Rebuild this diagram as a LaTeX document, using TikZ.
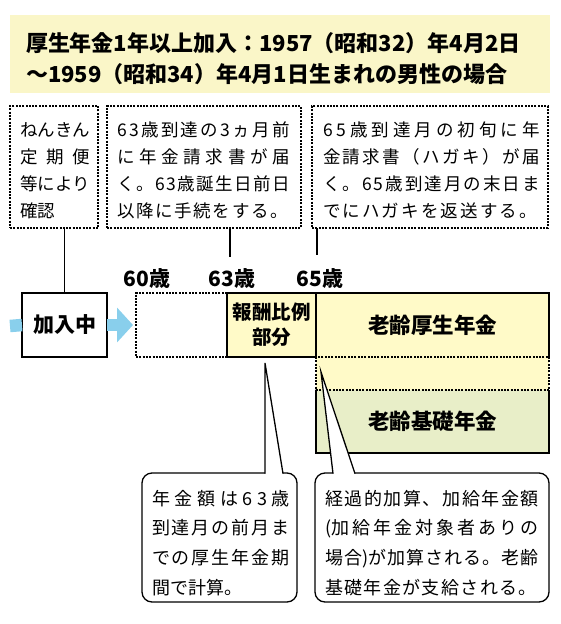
\documentclass[tikz,border=0pt]{standalone}
\usepackage{fontspec}
\setmainfont{Noto Sans CJK JP}
\usetikzlibrary{arrows.meta}
\definecolor{titleyellow}{RGB}{250,246,200}
\definecolor{boxyellow}{RGB}{255,250,200}
\definecolor{kisogreen}{RGB}{232,238,200}
\definecolor{arrowblue}{RGB}{137,207,236}
\newcount\jpc
\newcommand\jpsetclass[2]{\jpc=#1 \loop\XeTeXcharclass\jpc=200 \advance\jpc by 1 \ifnum\jpc<#2 \repeat}
\jpsetclass{"3000}{"3100}
\jpsetclass{"4E00}{"A000}
\jpsetclass{"FF00}{"FFF0}
\jpsetclass{"30}{"3A}
\XeTeXinterchartoks 200 200 = {\hskip 0pt plus 1fil\relax}
\newcommand\JL[2]{\hbox to #1{\XeTeXinterchartokenstate=1 #2}}
\newcommand\NL[1]{\hbox{#1}}
\tikzset{
  dbox/.style={draw, line width=1.2pt, dash pattern=on 2pt off 1.3pt},
  sbox/.style={draw, line width=1.3pt},
  sline/.style={line width=1.3pt},
  dline/.style={line width=1.2pt, dash pattern=on 2pt off 1.3pt},
  conn/.style={line width=1.3pt},
  boxtext/.style={anchor=base west, font=\fontsize{17.5}{27}\selectfont},
  calltext/.style={anchor=base west, font=\fontsize{18}{29.7}\selectfont},
  age/.style={anchor=base, font=\bfseries\fontsize{21}{25}\selectfont},
  biglabel/.style={font=\bfseries\fontsize{21.5}{26}\selectfont},
}
\begin{document}
\begin{tikzpicture}[x=1pt,y=-1pt, every node/.style={inner sep=0pt, outer sep=0pt}]
\useasboundingbox (0,0) rectangle (560,624);
% title
\node[fill=titleyellow, minimum width=540pt, minimum height=78pt, anchor=north west] (title) at (10,15) {};
\node[anchor=base west, font=\bfseries\fontsize{22}{31}\selectfont] (titletext) at (26,51)
  {\vtop{\baselineskip=31pt \hbox{厚生年金1年以上加入：1957（昭和32）年4月2日}\hbox{～1959（昭和34）年4月1日生まれの男性の場合}}};
% dashed info boxes
\node[dbox, minimum width=88pt, minimum height=122pt, anchor=north west] (b1) at (10,106) {};
\node[dbox, minimum width=194pt, minimum height=122pt, anchor=north west] (b2) at (107,106) {};
\node[dbox, minimum width=236pt, minimum height=122pt, anchor=north west] (b3) at (312,106) {};
\node[boxtext] (b1t) at (20,136) {\vtop{\baselineskip=27pt \JL{70pt}{ねんきん}\JL{70pt}{定期便}\JL{70pt}{等により}\NL{確認}}};
\node[boxtext] (b2t) at (117,136) {\vtop{\baselineskip=27pt \JL{173pt}{63歳到達の3ヵ月前}\JL{173pt}{に年金請求書が届}\JL{173pt}{く。63歳誕生日前日}\JL{171pt}{以降に手続をする。}}};
\node[boxtext] (b3t) at (323,136) {\vtop{\baselineskip=27pt \JL{217pt}{65歳到達月の初旬に年}\JL{217pt}{金請求書（ハガキ）が届}\JL{217pt}{く。65歳到達月の末日ま}\JL{214pt}{でにハガキを返送する。}}};
% ages
\node[age] (a60) at (147,286) {60歳};
\node[age] (a63) at (232,286) {63歳};
\node[age] (a65) at (320,286) {65歳};
% timeline boxes
\node[sbox, fill=white, minimum width=85pt, minimum height=64pt, font=\bfseries\fontsize{21}{25}\selectfont] (kanyu) at (64.5,325) {加入中};
\node[dbox, minimum width=91pt, minimum height=64pt, anchor=north west] (d6063) at (136,293) {};
\fill[boxyellow] (316,293) rectangle (549,390);
\fill[kisogreen] (316,390) rectangle (549,453);
\node[sbox, fill=boxyellow, minimum width=89pt, minimum height=64pt, anchor=north west, align=center, font=\bfseries\fontsize{19.5}{25}\selectfont] (hoshu) at (227,293) {報酬比例\\部分};
\node[biglabel, minimum width=233pt, minimum height=64pt, anchor=north west] (kosei) at (316,293) {老齢厚生年金};
\node[biglabel, minimum width=233pt, minimum height=63pt, anchor=north west] (kiso) at (316,390) {老齢基礎年金};
\draw[sline] (kosei.south west) -- (kosei.north west) -- (kosei.north east) -- (kosei.south east);
\draw[dline] (kosei.south west) -- (kiso.north west) -- (kiso.north east) -- (kosei.south east) -- cycle;
\draw[sline] (kiso.north west) -- (kiso.south west) -- (kiso.south east) -- (kiso.north east);
% connectors
\draw[conn] (b1.south -| kanyu.north) -- (kanyu.north);
\coordinate (t63) at (230,257);
\coordinate (t65) at (317,255);
\draw[conn] (b2.south -| t63) -- (t63);
\draw[conn] (b3.south -| t65) -- (t65);
% arrows
\coordinate (instart) at (10,326);
\draw[line width=12.5pt, arrowblue] (instart) -- (kanyu.west);
\draw[line width=12.5pt, arrowblue, -{Triangle[length=16pt, width=34pt]}, shorten >=3pt] (kanyu.east) -- (d6063.west);
% callouts
\coordinate (c1tip) at (265,363);
\coordinate (c2tip) at (321,372);
\draw[sline, fill=white, rounded corners=10pt] (142,473) rectangle (297,602);
\fill[white] (265.7,471.5) rectangle (282.3,474.6);
\draw[sline, fill=white] (265,473.6) -- (c1tip) -- (283,473.6);
\draw[sline, fill=white, rounded corners=10pt] (315,473) rectangle (549,602);
\fill[white] (333.7,471.5) rectangle (354.3,474.6);
\draw[sline, fill=white] (333,473.6) -- (c2tip) -- (355,473.6);
\node[calltext] (c1t) at (152,505) {\vtop{\baselineskip=29.7pt \JL{138pt}{年金額は63歳}\JL{138pt}{到達月の前月ま}\JL{138pt}{での厚生年金期}\NL{間で計算。}}};
\node[calltext] (c2t) at (325,505) {\vtop{\baselineskip=29.7pt \JL{214pt}{経過的加算、加給年金額}\JL{214pt}{(加給年金対象者ありの}\JL{214pt}{場合)が加算される。老齢}\JL{212pt}{基礎年金が支給される。}}};
\end{tikzpicture}
\end{document}
